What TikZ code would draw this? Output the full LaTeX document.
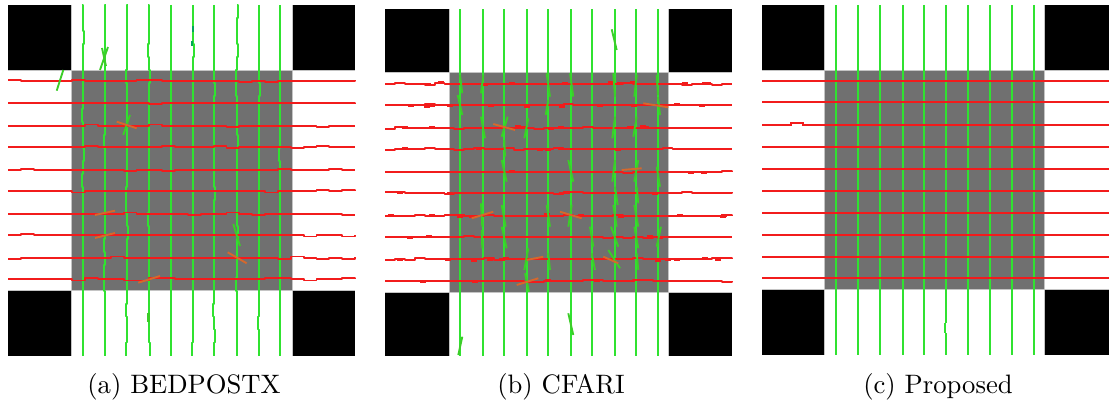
\documentclass[tikz,border=0pt]{standalone}
\definecolor{lnred}{RGB}{242,28,28}
\definecolor{lngreen}{RGB}{48,226,48}
\definecolor{strgreen}{RGB}{60,205,40}
\definecolor{midgray}{RGB}{112,112,112}
\definecolor{edgegray}{RGB}{196,196,196}
\definecolor{lnorange}{RGB}{214,104,44}
\begin{document}
\begin{tikzpicture}[x=0.375pt,y=-0.375pt,
  redln/.style={lnred, line width=0.7pt},
  grnln/.style={lngreen, line width=0.7pt},
  strayg/.style={strgreen, line width=0.7pt},
  strayo/.style={lnorange, line width=0.7pt},
  corner/.style={fill=black},
  core/.style={fill=midgray},
  edgeln/.style={edgegray, line width=0.35pt},
  capt/.style={anchor=base, font=\fontsize{10}{12}\selectfont}]
\useasboundingbox (0,0) rectangle (1113,400);
\pgfmathsetseed{4711}

% ---------------- (a) BEDPOSTX ----------------
\fill[corner] (8,5) rectangle (71,70);
\fill[corner] (292,5) rectangle (355,70);
\fill[corner] (8,290) rectangle (71,355.5);
\fill[corner] (292,290) rectangle (355,355.5);
\fill[core] (71,70) rectangle (292,290);
\draw[edgeln] (8,70) -- (355,70) (8,290) -- (355,290)
              (71,5) -- (71,355.5) (292,5) -- (292,355.5);
\foreach \gx in {82.7,104.7,126.7,149,170.7,192.7,214.3,237,258.7,280}
  \draw[grnln, line join=round] plot[const plot, domain=5:355.5, samples=28]
    ({\gx + 1*round(0.6*rand)}, \x);
\foreach \ry in {81,103,125.7,147,170,191.3,213.7,235.3,257.7,279.3}
  \draw[redln, line join=round] plot[const plot, domain=8:355, samples=28]
    (\x, {\ry + 1.2*round(0.62*rand)});
% stray fibres
\foreach \a/\b/\c/\d in {63.3/70/56.7/90.7, 108/47/100/70, 102/48/106/66,
    130/115/123.3/135, 233.3/224/240/246}
  \draw[strayg] (\a,\b) -- (\c,\d);
\draw[strayg, line width=1pt] (148.3,313) -- (148.3,322);
\draw[teal!70!green, line width=0.8pt] (192.7,26) -- (192.7,32) (191.7,41) -- (191.7,46);
\foreach \a/\b/\c/\d in {116.7/121.7/136.7/128.3, 95/215/115/210.7,
    95/238/115/233, 227.7/252.3/246.7/263.3, 138.3/282.7/160/276}
  \draw[strayo] (\a,\b) -- (\c,\d);

% ---------------- (b) CFARI ----------------
\fill[corner] (385,9) rectangle (449,72.5);
\fill[corner] (668.5,9) rectangle (732,72.5);
\fill[corner] (385,292) rectangle (449,356);
\fill[corner] (668.5,292) rectangle (732,356);
\fill[core] (449,72.5) rectangle (668.5,292);
\draw[edgeln] (385,72.5) -- (732,72.5) (385,292) -- (732,292)
              (449,9) -- (449,356) (668.5,9) -- (668.5,356);
\foreach \gx in {460,482.7,504.3,526.7,548,570.7,592,614.7,635.7,658.3}
  \draw[grnln] (\gx,9) -- (\gx,356);
\foreach \ry in {83.7,105.3,127.7,149,172,193,215.7,237,259.3,281}{
  \draw[redln, line join=round] plot[const plot, domain=385:732, samples=36]
    (\x, {\ry + 1*round(0.6*rand)});
  \foreach \k in {1,...,11}{
    \pgfmathsetmacro\bx{388+340*rnd}
    \pgfmathsetmacro\by{\ry+0.8*round(0.8*rand)}
    \draw[lnred, line width=1.1pt] (\bx-3,\by) -- (\bx+3,\by);
  }
}
\foreach \a/\b/\c/\d in {611.7/29.3/616.7/50, 460/75/462.3/93.3, 457.7/95/462.3/115,
    483.3/75/481/93.3, 546.7/73.3/550/96.7, 548.3/100/545.7/115, 570/73.3/573.3/96.7,
    613.3/73.3/615/96.7, 636.7/75/634.3/96.7, 656.7/75/658/95, 658/97/660/115,
    481/116.7/485/138.3, 507.7/116.7/501.7/136.7, 528.3/118.3/524.3/138.3,
    615/116.7/612.3/138.3, 636.7/116.7/633.3/136.7, 504.3/140/505/156.7,
    501.7/160/506.7/181.7, 568.3/160/573.3/181.7, 615/160/612.3/181.7,
    638.3/160/634.3/181.7, 656.7/166.7/660/186.7, 615/186.7/617.7/205,
    636.7/186.7/638.3/203.3, 481/203.3/482.3/226.7, 501.7/205/505.7/226.7,
    546.7/205/550/226.7, 571.7/205/568.3/226.7, 613.3/205/616.7/226.7,
    634.3/205/638.3/226.7, 661/226.7/656.7/246.7, 501.7/226.7/506.7/248.3,
    590/226.7/593.3/246.7, 611/226.7/618.3/246.7, 634.3/226.7/638.3/248.3,
    481.7/230/482.3/248.3, 528.3/248.3/524.3/270, 591.7/253.3/595/270,
    608.3/250/620/268.3, 636.7/253.3/638.3/270, 525/273.3/529/291.7,
    568.3/313.3/573.3/335, 462.3/336.7/458.3/355, 548.3/253.3/550/270}
  \draw[strayg] (\a,\b) -- (\c,\d);
\foreach \a/\b/\c/\d in {493.3/124/515/130, 471.7/218.3/493.3/211.7,
    560/211.7/581.7/218.3, 516.7/285/538.3/278.3, 603.3/256.7/618.3/263.3,
    526.7/260/543.3/256.7, 621.7/170/641.7/168.3, 643.3/103.3/668.3/107.3}
  \draw[strayo] (\a,\b) -- (\c,\d);

% ---------------- (c) Proposed ----------------
\fill[corner] (762,5) rectangle (824.7,70);
\fill[corner] (1044,5) rectangle (1109,70);
\fill[corner] (762,289.3) rectangle (824.7,354.5);
\fill[corner] (1044,289.3) rectangle (1109,354.5);
\fill[core] (824.7,70) rectangle (1044,289.3);
\draw[edgeln] (762,70) -- (1109,70) (762,289.3) -- (1109,289.3)
              (824.7,5) -- (824.7,354.5) (1044,5) -- (1044,354.5);
\foreach \gx in {836,858.3,880,902.7,923.7,967.7,990.3,1011.7,1034.3}
  \draw[grnln] (\gx,5) -- (\gx,354.5);
\draw[grnln] (946.3,5) -- (946.3,323) (945,323) -- (945,333) (946.3,333) -- (946.3,354.5);
\foreach \ry in {81,102.3,146.7,169.3,190.7,213,234.7,257,278}
  \draw[redln] (762,\ry) -- (1109,\ry);
\draw[redln] (762,125.3) -- (791,125.3) -- (791,123.3) -- (803,123.3)
             -- (803,125.3) -- (1109,125.3);

% ---------------- captions ----------------
\node[capt] (capA) at (184,393) {(a) BEDPOSTX};
\node[capt] (capB) at (561,393) {(b) CFARI};
\node[capt] (capC) at (938,393) {(c) Proposed};
\end{tikzpicture}
\end{document}
